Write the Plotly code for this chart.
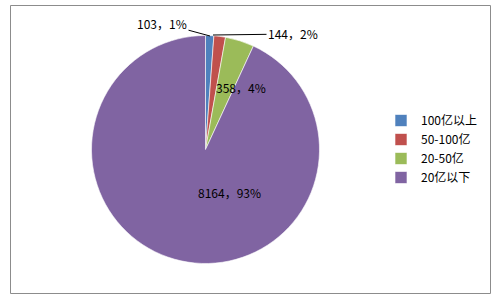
import plotly.graph_objects as go

categories = ["100亿以上", "50-100亿", "20-50亿", "20亿以下"]
values = [103, 144, 358, 8164]
colors = ["#4F81BD", "#C0504D", "#9BBB59", "#8064A2"]

W, H = 498, 301
total = sum(values)
labels_txt = [f"{v}，{round(v / total * 100)}%" for v in values]

fig = go.Figure()
fig.add_trace(go.Pie(
    labels=categories, values=values, sort=False, direction="clockwise",
    rotation=0, marker=dict(colors=colors, line=dict(color="white", width=0.6)),
    textinfo="none", hoverinfo="label+value+percent",
    domain=dict(x=[91.5 / W, 319.5 / W], y=[37 / H, 266 / H]),
))

def px(x, y):
    return x / W, 1 - y / H

font = dict(family="Noto Sans CJK SC, Arial", size=12, color="#000")
anns = []
x0, y0 = px(210, 36)
anns.append(dict(x=x0, y=y0, xref="paper", yref="paper", text=labels_txt[0],
                 showarrow=True, arrowhead=0, arrowwidth=1, arrowcolor="#000",
                 ax=-48, ay=-13, font=font, standoff=0))
x1, y1 = px(213, 35)
anns.append(dict(x=x1, y=y1, xref="paper", yref="paper", text=labels_txt[1],
                 showarrow=True, arrowhead=0, arrowwidth=1, arrowcolor="#000",
                 ax=80, ay=-1, font=font, standoff=0))
x2, y2 = px(241, 77)
anns.append(dict(x=x2, y=y2, xref="paper", yref="paper", text=labels_txt[2],
                 showarrow=False, font=font))
x3, y3 = px(229, 203)
anns.append(dict(x=x3, y=y3, xref="paper", yref="paper", text=labels_txt[3],
                 showarrow=False, font=font))

fig.update_layout(
    width=W, height=H, margin=dict(l=0, r=0, t=0, b=0),
    paper_bgcolor="white", plot_bgcolor="white",
    showlegend=True,
    legend=dict(x=381 / W, y=1 - 106 / H, xanchor="left", yanchor="top",
                font=dict(family="Noto Sans CJK SC, Arial", size=12, color="#000"),
                itemwidth=30, tracegroupgap=0, bgcolor="rgba(0,0,0,0)"),
    annotations=anns,
    shapes=[dict(type="rect", xref="paper", yref="paper",
                 x0=10.5 / W, x1=490.5 / W, y0=1 - 293.5 / H, y1=1 - 5.5 / H,
                 line=dict(color="#8C8C8C", width=1))],
)

fig.write_html("out.html")
